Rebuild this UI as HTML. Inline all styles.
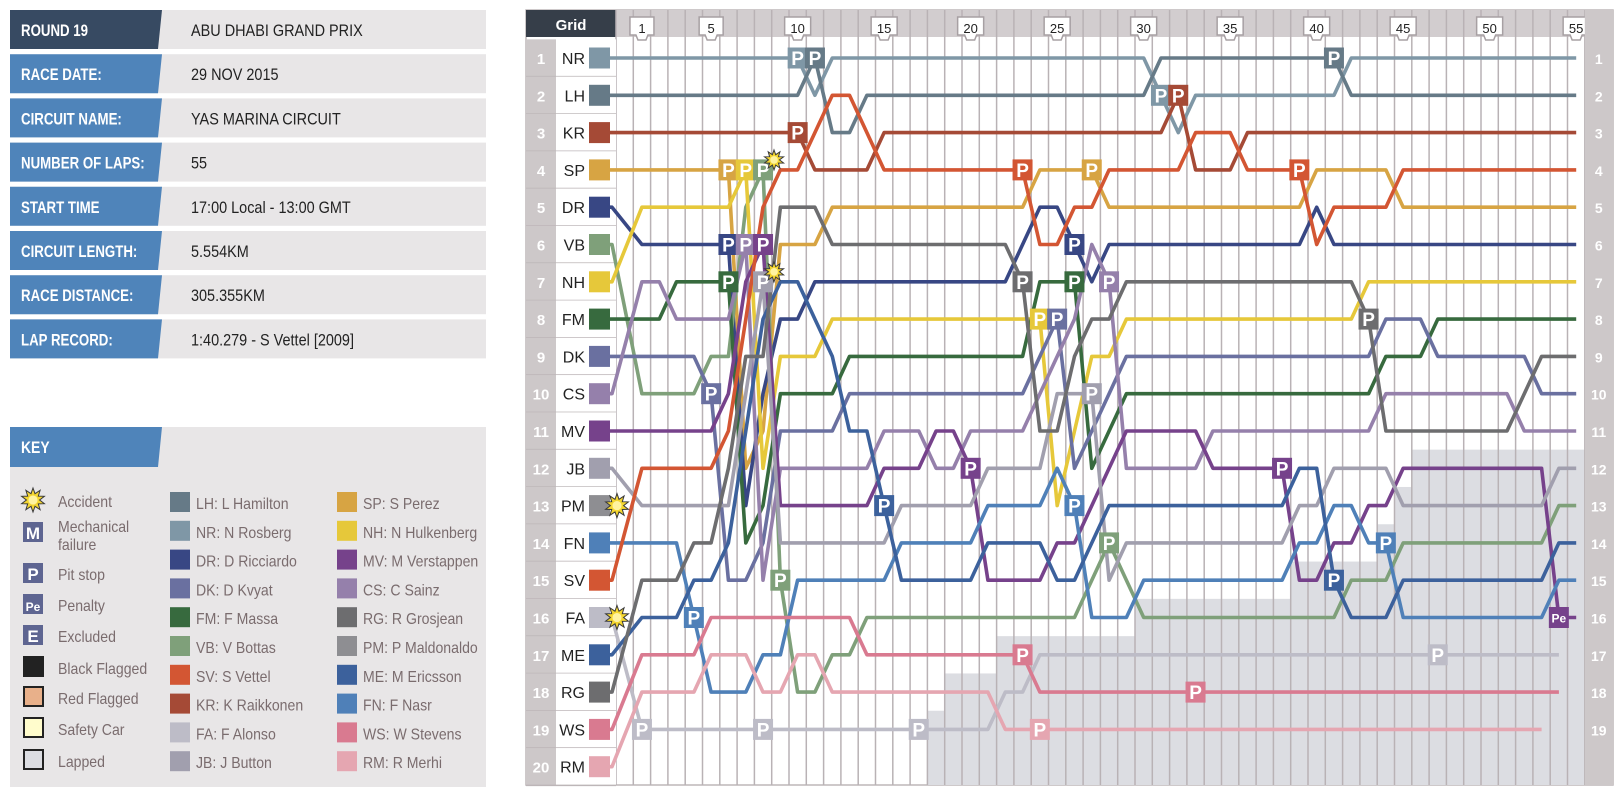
<!DOCTYPE html>
<html><head><meta charset="utf-8"><title>Abu Dhabi GP 2015 lap chart</title>
<style>
html,body{margin:0;padding:0;background:#fff;}
svg{display:block;}
.nar{font-family:"Liberation Sans",sans-serif;}
.sans{font-family:"Liberation Sans",sans-serif;}
</style></head>
<body>
<svg id="root" width="1622" height="796" viewBox="0 0 1622 796" xmlns="http://www.w3.org/2000/svg">
  <g id="info"></g>
  <g id="key"></g>
  <g id="chart"></g>
</svg>
<script>
// ---------- data ----------
const drivers = ['NR','LH','KR','SP','DR','VB','NH','FM','DK','CS','MV','JB','PM','FN','SV','FA','ME','RG','WS','RM'];
const driverColors = ['#7f97a6','#667a87','#a54a36','#d7a443','#384784','#7fa07a','#e6c83a','#376a3e','#6a70a0','#9580ab','#76428b','#a19fae','#8e8e92','#4f80b8','#d35633','#bdbcc7','#3c619c','#6d6d6f','#d97a90','#e5a6b1'];
const lapTicks = [1,5,10,15,20,25,30,35,40,45,50,55];
const totalLaps = 55;
const N = null;
const posNR = [1,1,1,1,1,1,1,1,1,1, 1,2,1,1,1,1,1,1,1,1, 1,1,1,1,1,1,1,1,1,1, 1,2,3,2,2,2,2,2,2,2, 2,2,1,1,1,1,1,1,1,1, 1,1,1,1,1,1];
const posLH = [2,2,2,2,2,2,2,2,2,2, 2,1,3,3,2,2,2,2,2,2, 2,2,2,2,2,2,2,2,2,2, 2,1,1,1,1,1,1,1,1,1, 1,1,2,2,2,2,2,2,2,2, 2,2,2,2,2,2];
const posKR = [3,3,3,3,3,3,3,3,3,3, 3,4,4,4,4,3,3,3,3,3, 3,3,3,3,3,3,3,3,3,3, 3,3,2,4,4,4,3,3,3,3, 3,3,3,3,3,3,3,3,3,3, 3,3,3,3,3,3];
const posSP = [4,4,4,4,4,4,4,12,11,6, 6,6,5,5,5,5,5,5,5,5, 5,5,5,5,4,4,4,4,5,5, 5,5,5,5,5,5,5,5,5,5, 4,4,4,4,4,5,5,5,5,5, 5,5,5,5,5,5];
const posDR = [5,6,6,6,6,6,6,13,10,8, 8,7,7,7,7,7,7,7,7,7, 7,7,7,6,5,5,6,7,6,6, 6,6,6,6,6,6,6,6,6,6, 5,6,6,6,6,6,6,6,6,6, 6,6,6,6,6,6];
const posVB = [6,10,10,10,10,9,9,5,4,15, 18,18,17,17,16,16,16,16,16,16, 16,16,16,16,16,16,16,15,14,15, 16,16,16,16,16,16,16,16,16,16, 16,16,15,15,15,14,14,14,14,14, 14,14,14,14,13,13];
const posNH = [7,5,5,5,5,5,5,4,12,9, 9,9,8,8,8,8,8,8,8,8, 8,8,8,8,8,13,11,9,9,8, 8,8,8,8,8,8,8,8,8,8, 8,8,8,7,7,7,7,7,7,7, 7,7,7,7,7,7];
const posFM = [8,8,8,7,7,7,7,14,13,10, 10,10,10,9,9,9,9,9,9,9, 9,9,9,9,7,7,7,12,11,10, 10,10,10,10,10,10,10,10,10,10, 10,10,10,10,9,9,9,8,8,8, 8,8,8,8,8,8];
const posDK = [9,9,9,9,9,10,15,15,14,11, 11,11,11,10,10,10,10,10,10,10, 10,10,10,10,9,8,12,11,10,9, 9,9,9,9,9,9,9,9,9,9, 9,9,9,9,8,8,8,9,9,9, 9,9,9,10,10,10];
const posCS = [10,7,7,8,8,8,8,6,15,12, 12,12,12,12,12,11,11,11,12,12, 11,11,11,11,10,9,8,6,7,12, 12,12,12,12,11,11,11,11,11,11, 11,11,11,11,10,10,10,10,10,10, 10,10,11,11,11,11];
const posMV = [11,11,11,11,11,11,10,7,6,13, 13,13,13,13,13,12,12,12,11,11, 12,15,15,15,15,14,14,13,12,11, 11,11,11,11,12,12,12,12,12,15, 15,14,14,13,13,12,12,12,12,12, 12,12,12,12,16,16];
const posJB = [12,13,13,13,13,13,13,10,7,14, 14,14,14,14,14,14,13,13,13,13, 13,12,12,12,12,10,10,10,15,14, 14,14,14,14,14,14,14,14,14,13, 13,12,12,12,12,13,13,13,13,13, 13,13,13,13,12,12];
const posPM = [13,N,N,N,N,N,N,N,N,N, N,N,N,N,N,N,N,N,N,N, N,N,N,N,N,N,N,N,N,N, N,N,N,N,N,N,N,N,N,N, N,N,N,N,N,N,N,N,N,N, N,N,N,N,N,N];
const posFN = [14,14,14,14,16,18,18,18,17,17, 15,15,15,15,15,15,14,14,14,14, 14,13,13,13,13,12,13,16,16,16, 15,15,15,15,15,15,15,15,15,14, 14,13,13,14,14,16,16,16,16,16, 16,16,16,16,15,15];
const posSV = [15,12,12,12,12,12,11,8,5,4, 4,3,2,2,3,4,4,4,4,4, 4,4,4,4,6,6,5,5,4,4, 4,4,4,3,3,3,4,4,4,4, 6,5,5,5,5,4,4,4,4,4, 4,4,4,4,4,4];
const posFA = [16,19,19,19,19,19,19,19,19,19, 19,19,19,19,19,19,19,19,19,19, 19,19,18,18,17,17,17,17,17,17, 17,17,17,17,17,17,17,17,17,17, 17,17,17,17,17,17,17,17,17,17, 17,17,17,17,17,N];
const posME = [17,16,16,16,15,15,14,11,8,7, 7,8,9,11,11,13,15,15,15,15, 15,14,14,14,14,15,15,14,13,13, 13,13,13,13,13,13,13,13,13,12, 12,15,16,16,16,15,15,15,15,15, 15,15,15,15,14,14];
const posRG = [18,15,15,15,14,14,12,9,9,5, 5,5,6,6,6,6,6,6,6,6, 6,6,6,7,11,11,9,8,8,7, 7,7,7,7,7,7,7,7,7,7, 7,7,7,8,11,11,11,11,11,11, 11,11,10,9,9,9];
const posWS = [19,17,17,17,17,16,16,16,16,16, 16,16,16,16,17,17,17,17,17,17, 17,17,17,17,18,18,18,18,18,18, 18,18,18,18,18,18,18,18,18,18, 18,18,18,18,18,18,18,18,18,18, 18,18,18,18,18,N];
const posRM = [20,18,18,18,18,17,17,17,18,18, 17,17,18,18,18,18,18,18,18,18, 18,18,19,19,19,19,19,19,19,19, 19,19,19,19,19,19,19,19,19,19, 19,19,19,19,19,19,19,19,19,19, 19,19,19,19,N,N];
const positions = [posNR,posLH,posKR,posSP,posDR,posVB,posNH,posFM,posDK,posCS,posMV,posJB,posPM,posFN,posSV,posFA,posME,posRG,posWS,posRM];
const pitDrivers = ['FA','FN','DK','SP','DR','FM','NH','CS','VB','MV','JB','FA','VB','NR','KR','LH','ME','FA','MV','SV','RG','WS','NH','RM','DK','FN','DR','FM','SP','JB','CS','VB','NR','KR','WS','MV','SV','LH','ME','RG','FN','FA'];
const pitLaps    = [1,4,5,6,6,6,7,7,8,8,8,8,9,10,10,11,15,17,20,23,23,23,24,24,25,26,26,26,27,27,28,28,31,32,33,38,39,41,41,43,44,47];
const penaltyDrivers = ['MV'];
const penaltyLaps = [54];
const accidentDrivers = ['PM','FA','VB','JB'];
const accidentLaps = [0,0,8,8];
const lappedFromLap = [18,19,22,30,39,44,45,46];
const lappedFromPos = [19,18,17,16,15,14,13,12];

// ---------- geometry ----------
const NS='http://www.w3.org/2000/svg';
const X0=616, COL=17.3, Y1=58, ROW=37.3;
const colLeft = k => X0 + k*COL;
const xLap = k => k===0 ? 612 : X0 + k*COL + COL/2;
const yPos = p => Y1 + (p-1)*ROW;
const TOP=37, BOT=785, RIGHT0=X0+56*COL, RIGHT1=1613;

function el(tag, attrs, parent){
  const e=document.createElementNS(NS,tag);
  for(const k in attrs) e.setAttribute(k,attrs[k]);
  parent.appendChild(e); return e;
}
function txt(parent, x, y, s, attrs){
  const t=el('text', Object.assign({x:x,y:y}, attrs||{}), parent);
  t.textContent=s; return t;
}
// condensed text: horizontally scaled
function ntxt(parent, x, y, s, attrs, sx){
  const t=el('text', Object.assign({x:0,y:0,transform:`translate(${x},${y}) scale(${sx||0.82},1)`}, attrs||{}), parent);
  t.textContent=s; return t;
}
function star(parent, cx, cy, r){
  let pts=[];
  for(let i=0;i<20;i++){const a=i*Math.PI/10-Math.PI/2;const rr=i%2?r*0.55:r;pts.push((cx+rr*Math.cos(a)).toFixed(1)+','+(cy+rr*Math.sin(a)).toFixed(1));}
  const g=el('g',{},parent);
  el('polygon',{points:pts.join(' '),fill:'#f4d630',stroke:'#3a3a3a','stroke-width':1},g);
  el('circle',{cx:cx,cy:cy,r:r*0.38,fill:'#fff3a0'},g);
  return g;
}

// ---------- info panel ----------
const info=document.getElementById('info');
const infoLabels=['ROUND 19','RACE DATE:','CIRCUIT NAME:','NUMBER OF LAPS:','START TIME','CIRCUIT LENGTH:','RACE DISTANCE:','LAP RECORD:'];
const infoValues=['ABU DHABI GRAND PRIX','29 NOV 2015','YAS MARINA CIRCUIT','55','17:00 Local - 13:00 GMT','5.554KM','305.355KM','1:40.279 - S Vettel [2009]'];
infoLabels.forEach((lab,i)=>{
  const y=10+i*44.2;
  const row=el('g',{},info);
  
  
  el('rect',{x:10,y:y,width:476,height:39,fill:'#e8e6e7'},row);
  el('polygon',{points:`10,${y} 162,${y} 158,${y+39} 10,${y+39}`,fill:i===0?'#374a62':'#4f84ba'},row);
  ntxt(row,21,y+26,lab,{class:'nar','font-size':17,'font-weight':'bold',fill:'#fff'},0.78);
  ntxt(row,191,y+26,infoValues[i],{class:'nar','font-size':17,fill:'#222'},0.85);
});

// ---------- key ----------
const key=document.getElementById('key');
el('rect',{x:10,y:427,width:476,height:360,fill:'#e8e6e7'},key);
el('polygon',{points:'10,427 162,427 158,467 10,467',fill:'#4f84ba'},key);
ntxt(key,21,453,'KEY',{class:'nar','font-size':17,'font-weight':'bold',fill:'#fff'},0.82);
const keySyms=['Accident','Mechanical','Pit stop','Penalty','Excluded','Black Flagged','Red Flagged','Safety Car','Lapped'];
const keySymY=[500,532,573,604,635,667,697,728,760];
keySyms.forEach((s,i)=>{
  const g=el('g',{},key);
  
  
  const y=keySymY[i];
  if(i===0) star(g,33,y,12);
  else if(i<5){
    el('rect',{x:23,y:y-10,width:20,height:20,fill:'#5e6591'},g);
    txt(g,33,y+7,['','M','P','Pe','E'][i],{class:'sans','font-size':i===3?12:17,'font-weight':'bold',fill:'#fff','text-anchor':'middle'});
  } else {
    const f=['#222','#e8b08a','#fffccc','#dcdde2'][i-5];
    el('rect',{x:24,y:y-10,width:19,height:19,fill:f,stroke:'#222','stroke-width':2},g);
  }
  ntxt(g,58,y+(i===1?0:7),s,{class:'nar','font-size':16,fill:'#7a6c6e'},0.88);
  if(i===1) ntxt(g,58,y+18,'failure',{class:'nar','font-size':16,fill:'#7a6c6e'},0.88);
});
const keyCol2=['LH: L Hamilton','NR: N Rosberg','DR: D Ricciardo','DK: D Kvyat','FM: F Massa','VB: V Bottas','SV: S Vettel','KR: K Raikkonen','FA: F Alonso','JB: J Button'];
const keyCol2C=['#667a87','#7f97a6','#384784','#6a70a0','#376a3e','#7fa07a','#d35633','#a54a36','#bdbcc7','#a19fae'];
const keyCol3=['SP: S Perez','NH: N Hulkenberg','MV: M Verstappen','CS: C Sainz','RG: R Grosjean','PM: P Maldonaldo','ME: M Ericsson','FN: F Nasr','WS: W Stevens','RM: R Merhi'];
const keyCol3C=['#d7a443','#e6c83a','#76428b','#9580ab','#6d6d6f','#8e8e92','#3c619c','#4f80b8','#d97a90','#e5a6b1'];
for(let i=0;i<10;i++){
  const y=502+i*28.8;
  const a=el('g',{},key);
  
  
  el('rect',{x:170,y:y-10,width:20,height:20,fill:keyCol2C[i]},a);
  ntxt(a,196,y+7,keyCol2[i],{class:'nar','font-size':16,fill:'#7a6c6e'},0.88);
  const b=el('g',{},key);
  
  
  el('rect',{x:337,y:y-10,width:20,height:20,fill:keyCol3C[i]},b);
  ntxt(b,363,y+7,keyCol3[i],{class:'nar','font-size':16,fill:'#7a6c6e'},0.88);
}

// ---------- chart ----------
const chart=document.getElementById('chart');
el('rect',{x:526,y:10,width:RIGHT1-526,height:BOT-10,fill:'#fff',stroke:'#bdb7b9','stroke-width':1.5},chart);
el('rect',{x:X0,y:10,width:RIGHT1-X0,height:TOP-10,fill:'#d2cdcf'},chart);
const gh=el('rect',{x:526,y:10,width:90,height:TOP-10,fill:'#363e49'},chart);


txt(chart,571,30,'Grid',{class:'sans','font-size':15,'font-weight':'bold',fill:'#fff','text-anchor':'middle'});
const shade=el('g',{},chart);


lappedFromLap.forEach((lap,i)=>{
  const yTop = yPos(lappedFromPos[i]) - ROW/2;
  el('rect',{x:colLeft(lap),y:yTop,width:colLeft(56)-colLeft(lap),height:BOT-yTop,fill:'#dcdde2'},shade);
});
const grid=el('g',{},chart);


for(let k=0;k<=56;k++){
  el('line',{x1:colLeft(k),x2:colLeft(k),y1:10,y2:BOT,stroke:'#b9b2b5','stroke-width':1.5},grid);
}
lapTicks.forEach(l=>{
  const cx=xLap(l), g=el('g',{},chart);
  
  
  const w=l>=10?26:24;
  el('path',{d:`M${cx-w/2},17 H${cx+w/2} V35 H${cx+6} L${cx+4},40 H${cx-4} L${cx-6},35 H${cx-w/2} Z`,fill:'#fff',stroke:'#a7a0a3','stroke-width':1.5},g);
  txt(g,cx,33,String(l),{class:'sans','font-size':13,fill:'#222','text-anchor':'middle'});
});
for(let p=1;p<=20;p++){
  const y=yPos(p), g=el('g',{},chart);
  
  
  el('rect',{x:526,y:y-ROW/2,width:30,height:ROW,fill:'#cdc8c9'},g);
  el('rect',{x:556,y:y-ROW/2,width:60,height:ROW,fill:'#fff'},g);
  el('line',{x1:526,x2:616,y1:y+ROW/2,y2:y+ROW/2,stroke:'#bdb6b8','stroke-width':1.5},g);
  txt(g,541,y+6,String(p),{class:'sans','font-size':15,'font-weight':'bold',fill:'#fff','text-anchor':'middle'});
  txt(g,585,y+6,drivers[p-1],{class:'sans','font-size':16,fill:'#222','text-anchor':'end'});
  el('rect',{x:589,y:y-10.5,width:21,height:21,fill:driverColors[p-1]},g);
}
el('rect',{x:RIGHT0,y:10,width:RIGHT1-RIGHT0,height:BOT-10,fill:'#cdc8c9'},chart);
for(let p=1;p<=19;p++){
  const t=txt(chart,RIGHT0+14,yPos(p)+6,String(p),{class:'sans','font-size':14,'font-weight':'bold',fill:'#fff','text-anchor':'middle'});
  
  
}
const lines=el('g',{},chart);


positions.forEach((arr,i)=>{
  const pts=[];
  arr.forEach((p,k)=>{ if(p!==null){ if(k===0) pts.push([610,yPos(p)]); pts.push([xLap(k),yPos(p)]);} });
  if(pts.length<3) return;
  const pl=el('polyline',{points:pts.map(q=>q[0].toFixed(1)+','+q[1].toFixed(1)).join(' '),fill:'none',stroke:driverColors[i],'stroke-width':3.6,'stroke-linejoin':'round'},lines);
  
  
});
function marker(code,lap,label,name){
  const i=drivers.indexOf(code), p=positions[i][lap];
  if(p===null||p===undefined) return;
  const cx=xLap(lap), cy=yPos(p), g=el('g',{},chart);
  
  
  el('rect',{x:cx-10,y:cy-10.5,width:20,height:21,fill:driverColors[i]},g);
  txt(g,cx,cy+(label==='P'?7:5),label,{class:'sans','font-size':label==='P'?19:12,'font-weight':'bold',fill:'#fff','text-anchor':'middle'});
}
pitDrivers.forEach((d,j)=>marker(d,pitLaps[j],'P','pit-stop'));
penaltyDrivers.forEach((d,j)=>marker(d,penaltyLaps[j],'Pe','penalty'));
accidentDrivers.forEach((d,j)=>{
  const i=drivers.indexOf(d), lap=accidentLaps[j], p=positions[i][lap];
  const cx= lap===0 ? 617 : xLap(lap)+11, cy= lap===0 ? yPos(p) : yPos(p)-10;
  const s=star(chart,cx,cy,lap===0?12:10);
  
  
});
</script>
</body></html>
